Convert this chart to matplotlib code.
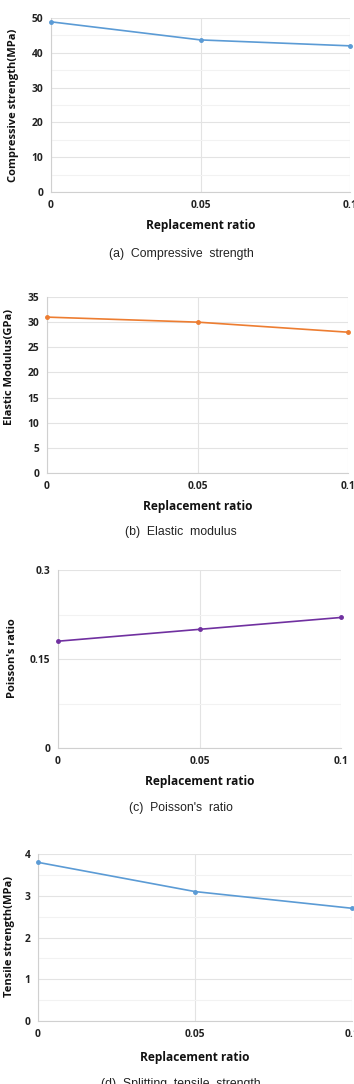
import numpy as np
import matplotlib
matplotlib.use("Agg")
import matplotlib.pyplot as plt
from matplotlib.ticker import MultipleLocator

plt.rcParams['font.family'] = ['Open Sans', 'DejaVu Sans']

# data
ratio = [0, 0.05, 0.1]
ratio_labels = ['0', '0.05', '0.1']
compressive = [48.9, 43.7, 42.0]
elastic = [31.0, 30.0, 28.0]
poisson = [0.18, 0.20, 0.22]
tensile = [3.8, 3.1, 2.7]

W, H = 354, 1084
fig = plt.figure(figsize=(W / 100, H / 100), dpi=100)


def fx(x):
    return x / W


def fy(y):
    return 1 - y / H


# each panel: values, color, y-limit, grid steps, ylabel, caption, box (l, t, r, b), label positions
panels = [
    dict(y=compressive, c='#5B9BD5', ymax=50, major=10, minor=5, yticks=None,
         ylab='Compressive strength(MPa)', cap='(a)  Compressive  strength',
         box=(51, 18, 350, 192), ylx=14, yly=105, xlx=201, xly=225, capy=254),
    dict(y=elastic, c='#ED7D31', ymax=35, major=5, minor=None, yticks=None,
         ylab='Elastic Modulus(GPa)', cap='(b)  Elastic  modulus',
         box=(47, 297, 348, 473), ylx=10, yly=367, xlx=198, xly=507, capy=532),
    dict(y=poisson, c='#7030A0', ymax=0.3, major=0.15, minor=0.075, yticks=[0, 0.15, 0.3],
         ylab="Poisson's ratio", cap="(c)  Poisson's  ratio",
         box=(58, 570, 341, 748), ylx=13, yly=658, xlx=200, xly=781, capy=808),
    dict(y=tensile, c='#5B9BD5', ymax=4, major=1, minor=0.5, yticks=None,
         ylab='Tensile strength(MPa)', cap='(d)  Splitting  tensile  strength',
         box=(38, 854, 352, 1021), ylx=10, yly=936, xlx=195, xly=1058, capy=1084),
]

for p in panels:
    l, t, r, b = p['box']
    ax = fig.add_axes([fx(l), fy(b), fx(r - l), (b - t) / H])
    ax.plot(ratio, p['y'], color=p['c'], lw=1.2, marker='o', ms=2.5, clip_on=False, zorder=3)
    ax.set_xlim(0, 0.1)
    ax.set_ylim(0, p['ymax'])
    ax.set_xticks(ratio)
    ax.set_xticklabels(ratio_labels)
    if p['yticks'] is not None:
        ax.set_yticks(p['yticks'])
        ax.set_yticklabels(['0', '0.15', '0.3'])
    else:
        ax.yaxis.set_major_locator(MultipleLocator(p['major']))
    if p['minor']:
        ax.yaxis.set_minor_locator(MultipleLocator(p['minor']))
        ax.grid(axis='y', which='minor', color='#F2F2F2', lw=0.8)
    ax.grid(axis='y', which='major', color='#E3E3E3', lw=0.8)
    ax.grid(axis='x', which='major', color='#E3E3E3', lw=0.8)
    ax.set_axisbelow(True)
    for s in ['top', 'right']:
        ax.spines[s].set_visible(False)
    for s in ['left', 'bottom']:
        ax.spines[s].set_color('#D0D0D0')
        ax.spines[s].set_linewidth(0.8)
    ax.tick_params(length=0, labelsize=7.4, pad=5.5)
    ax.tick_params(which='minor', length=0)
    for lab in ax.get_xticklabels() + ax.get_yticklabels():
        lab.set_fontweight('bold')
        lab.set_color('#222222')

    ax.set_ylabel(p['ylab'], fontsize=8, fontweight='bold', color='#111111')
    ax.yaxis.set_label_coords(fx(p['ylx']), fy(p['yly']), transform=fig.transFigure)
    ax.yaxis.label.set_va('center')
    ax.set_xlabel('Replacement ratio', fontsize=8.6, fontweight='bold', color='#111111')
    ax.xaxis.set_label_coords(fx(p['xlx']), fy(p['xly']), transform=fig.transFigure)
    ax.xaxis.label.set_va('center')

    fig.text(fx(181), fy(p['capy']), p['cap'], ha='center', va='center',
             fontsize=8.8, color='#222222', family=['Liberation Sans', 'DejaVu Sans'])

fig.savefig('out.png', dpi=100)
